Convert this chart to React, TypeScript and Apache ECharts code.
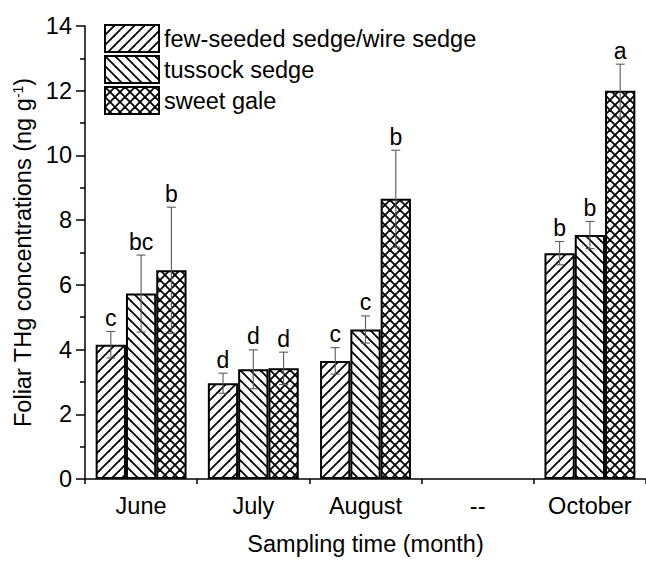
import React, { useEffect, useRef } from "react";
import * as echarts from "echarts";

const categories = ["June", "July", "August", "--", "October"];
const seriesNames = ["few-seeded sedge/wire sedge", "tussock sedge", "sweet gale"];

const fewSeeded = [4.15, 2.96, 3.65, null, 6.98];
const tussock = [5.73, 3.39, 4.62, null, 7.54];
const sweetGale = [6.45, 3.42, 8.66, null, 12.0];

const fewSeededErr = [0.41, 0.31, 0.41, null, 0.36];
const tussockErr = [1.19, 0.6, 0.42, null, 0.42];
const sweetGaleErr = [1.95, 0.5, 1.5, null, 0.82];

const fewSeededLetters = ["c", "d", "c", "", "b"];
const tussockLetters = ["bc", "d", "c", "", "b"];
const sweetGaleLetters = ["b", "d", "b", "", "a"];

const yTicks = { min: 0, max: 14, interval: 2 };

const FONT = "'Liberation Sans', Arial, Helvetica, sans-serif";
const FS = 23.5;
const BAR_FRAC = 0.27;

function makePattern(kind: "fwd" | "back" | "cross") {
  const s = 10;
  const c = document.createElement("canvas");
  c.width = s;
  c.height = s;
  const ctx = c.getContext("2d")!;
  ctx.fillStyle = "#ffffff";
  ctx.fillRect(0, 0, s, s);
  ctx.strokeStyle = "#000000";
  ctx.lineWidth = 1.8;
  const line = (x1: number, y1: number, x2: number, y2: number) => {
    ctx.beginPath();
    ctx.moveTo(x1, y1);
    ctx.lineTo(x2, y2);
    ctx.stroke();
  };
  if (kind === "fwd" || kind === "cross") {
    line(-2, s + 2, s + 2, -2);
    line(-s / 2 - 2, s / 2 + 2, s / 2 + 2, -s / 2 - 2);
    line(s / 2 - 2, s * 1.5 + 2, s * 1.5 + 2, s / 2 - 2);
  }
  if (kind === "back" || kind === "cross") {
    line(-2, -2, s + 2, s + 2);
    line(s / 2 - 2, -s / 2 - 2, s * 1.5 + 2, s / 2 + 2);
    line(-s / 2 - 2, s / 2 - 2, s / 2 + 2, s * 1.5 + 2);
  }
  return { image: c, repeat: "repeat", imageWidth: s, imageHeight: s } as any;
}

export default function App() {
  const ref = useRef<HTMLDivElement>(null);

  useEffect(() => {
    if (!ref.current) return;
    const chart = echarts.init(ref.current, undefined, { renderer: "svg" });

    const values = [fewSeeded, tussock, sweetGale];
    const errs = [fewSeededErr, tussockErr, sweetGaleErr];
    const letters = [fewSeededLetters, tussockLetters, sweetGaleLetters];
    const patterns = [makePattern("fwd"), makePattern("back"), makePattern("cross")];

    const barSeries = seriesNames.map((name, k) => ({
      name,
      type: "bar",
      xAxisIndex: 0,
      barWidth: `${BAR_FRAC * 100}%`,
      barGap: "0%",
      data: values[k],
      itemStyle: { color: patterns[k], borderColor: "#000", borderWidth: 2 },
      emphasis: { disabled: true },
      z: 2,
    }));

    const errSeries = seriesNames.map((name, k) => {
      const data: any[] = [];
      values[k].forEach((v, i) => {
        if (v != null && errs[k][i] != null) data.push([i, v, errs[k][i], letters[k][i]]);
      });
      return {
        name: name + " err",
        type: "custom",
        xAxisIndex: 0,
        z: 5,
        silent: true,
        encode: { x: 0, y: 1 },
        data,
        renderItem: (params: any, api: any) => {
          const d = data[params.dataIndex];
          const idx = d[0];
          const v = d[1];
          const e = d[2];
          const letter = d[3];
          const band = api.size([1, 0])[0];
          const bw = band * BAR_FRAC;
          const cx = api.coord([idx, 0])[0] + (k - 1) * bw;
          const yTop = api.coord([idx, v + e])[1];
          const yBot = api.coord([idx, v - e])[1];
          const cap = 4.5;
          const st = { stroke: "#5a5a5a", lineWidth: 1.1 };
          return {
            type: "group",
            children: [
              { type: "line", shape: { x1: cx, y1: yTop, x2: cx, y2: yBot }, style: st },
              { type: "line", shape: { x1: cx - cap, y1: yTop, x2: cx + cap, y2: yTop }, style: st },
              { type: "line", shape: { x1: cx - cap, y1: yBot, x2: cx + cap, y2: yBot }, style: st },
              {
                type: "text",
                x: cx,
                y: yTop - 2,
                style: {
                  text: letter,
                  fontSize: 23,
                  fontFamily: FONT,
                  fill: "#000",
                  align: "center",
                  verticalAlign: "bottom",
                },
              },
            ],
          };
        },
      };
    });

    const option: any = {
      animation: false,
      textStyle: { fontFamily: FONT, color: "#000" },
      grid: { left: 85, right: -7, top: 26, bottom: 78, containLabel: false },
      legend: {
        orient: "vertical",
        left: 104,
        top: 24,
        padding: 0,
        itemGap: 2,
        itemWidth: 54,
        itemHeight: 27,
        icon: "rect",
        selectedMode: false,
        data: seriesNames,
        textStyle: { fontSize: FS, color: "#000", fontFamily: FONT },
      },
      xAxis: [
        {
          type: "category",
          data: categories,
          name: "Sampling time (month)",
          nameLocation: "middle",
          nameGap: 53,
          nameTextStyle: { fontSize: FS, color: "#000", fontFamily: FONT },
          axisLine: { lineStyle: { color: "#000", width: 1.5 } },
          axisTick: { alignWithLabel: true, length: 8, lineStyle: { color: "#000", width: 1.5 } },
          axisLabel: { fontSize: FS, color: "#000", margin: 15, fontFamily: FONT },
          splitLine: { show: false },
        },
        {
          type: "category",
          data: categories,
          position: "bottom",
          axisLine: { show: false },
          axisTick: { show: true, length: 5, lineStyle: { color: "#000", width: 1.5 } },
          axisLabel: { show: false },
          splitLine: { show: false },
        },
      ],
      yAxis: {
        type: "value",
        min: yTicks.min,
        max: yTicks.max,
        interval: yTicks.interval,
        name: "Foliar THg concentrations (ng g{sup|-1})",
        nameLocation: "middle",
        nameGap: 40,
        nameTextStyle: {
          fontSize: FS,
          color: "#000",
          fontFamily: FONT,
          rich: { sup: { fontSize: 14, verticalAlign: "top", fontFamily: FONT, color: "#000" } },
        },
        axisLine: { show: true, lineStyle: { color: "#000", width: 1.5 } },
        axisTick: { show: true, length: 9, lineStyle: { color: "#000", width: 1.5 } },
        minorTick: { show: true, splitNumber: 2, length: 5, lineStyle: { color: "#000", width: 1.5 } },
        axisLabel: { fontSize: FS, color: "#000", margin: 13, fontFamily: FONT },
        splitLine: { show: false },
      },
      series: [...barSeries, ...errSeries],
    };

    chart.setOption(option);
    return () => chart.dispose();
  }, []);

  return (
    <div
      ref={ref}
      style={{ position: "fixed", left: 0, top: 0, width: 646, height: 561, background: "#fff" }}
    />
  );
}
